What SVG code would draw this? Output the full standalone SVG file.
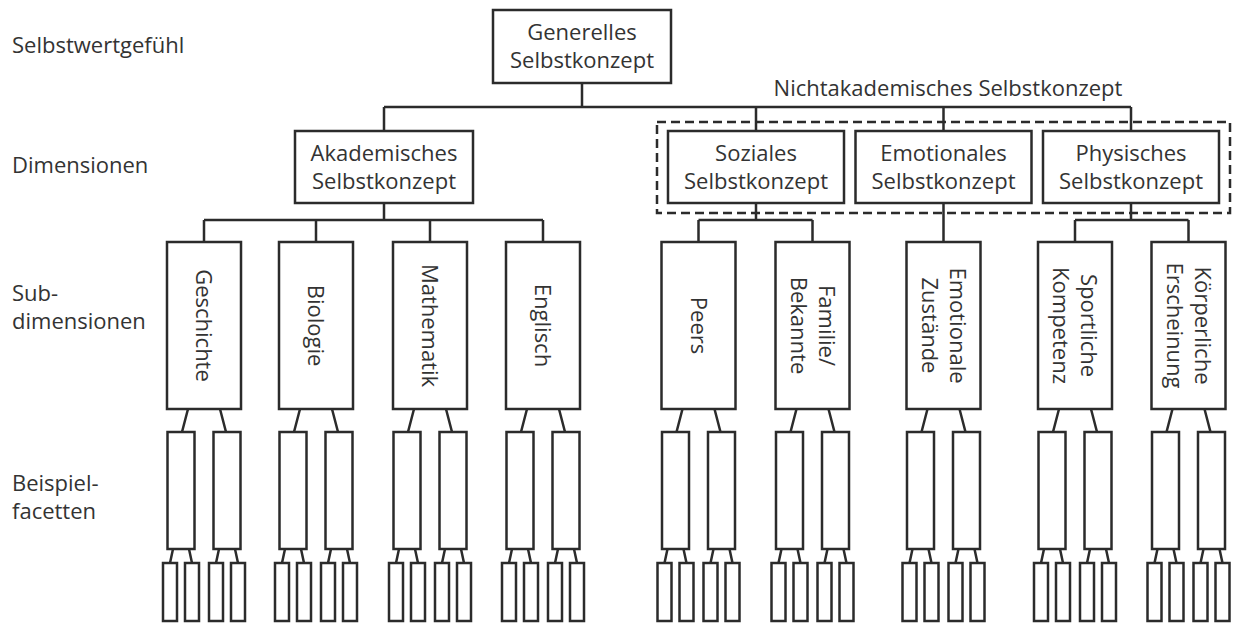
<svg xmlns="http://www.w3.org/2000/svg" width="1235" height="624" viewBox="0 0 1235 624">
<style>
.b{fill:#fff;stroke:#2b2b2b;stroke-width:2.5}
.c{fill:none;stroke:#2b2b2b;stroke-width:2.5}
.d{fill:none;stroke:#2b2b2b;stroke-width:2.5;stroke-dasharray:9 5}
text{font-family:"Open Sans","DejaVu Sans",sans-serif;font-size:22px;fill:#333}
.m{text-anchor:middle}
</style>
<rect width="1235" height="624" fill="#fff"/>
<g id="levels">
<text x="12" y="53">Selbstwertgefühl</text>
<text x="12" y="173">Dimensionen</text>
<text x="12" y="301">Sub-</text>
<text x="12" y="329">dimensionen</text>
<text x="12" y="491">Beispiel-</text>
<text x="12" y="519">facetten</text>
</g>
<g id="group-nonacademic">
<rect class="d" x="657" y="122" width="573" height="91"/>
<text class="m" x="948" y="96">Nichtakademisches Selbstkonzept</text>
</g>
<g id="connectors">
<path class="c" d="M582,83V107M384,107H1131M384,107V131M756,107V131M943.5,107V131M1131,107V131"/>
<path class="c" d="M384,203V220M204,220H543M204,220V242M316,220V242M430,220V242M543,220V242"/>
<path class="c" d="M756,203V220M698.5,220H812.5M698.5,220V242M812.5,220V242M943.5,203V242"/>
<path class="c" d="M1131,203V220M1075,220H1188.5M1075,220V242M1188.5,220V242"/>
<path class="c" d="M188,409L182,432M220,409L226,432M173,549L170,563M189,549L192,563M219,549L216,563M235,549L238,563"/>
<path class="c" d="M300,409L294,432M332,409L338,432M285,549L282,563M301,549L304,563M331,549L328,563M347,549L350,563"/>
<path class="c" d="M414,409L408,432M446,409L452,432M399,549L396,563M415,549L418,563M445,549L442,563M461,549L464,563"/>
<path class="c" d="M527,409L521,432M559,409L565,432M512,549L509,563M528,549L531,563M558,549L555,563M574,549L577,563"/>
<path class="c" d="M682.5,409L676.5,432M714.5,409L720.5,432M667.5,549L664.5,563M683.5,549L686.5,563M713.5,549L710.5,563M729.5,549L732.5,563"/>
<path class="c" d="M796.5,409L790.5,432M828.5,409L834.5,432M781.5,549L778.5,563M797.5,549L800.5,563M827.5,549L824.5,563M843.5,549L846.5,563"/>
<path class="c" d="M927.5,409L921.5,432M959.5,409L965.5,432M912.5,549L909.5,563M928.5,549L931.5,563M958.5,549L955.5,563M974.5,549L977.5,563"/>
<path class="c" d="M1059,409L1053,432M1091,409L1097,432M1044,549L1041,563M1060,549L1063,563M1090,549L1087,563M1106,549L1109,563"/>
<path class="c" d="M1172.5,409L1166.5,432M1204.5,409L1210.5,432M1157.5,549L1154.5,563M1173.5,549L1176.5,563M1203.5,549L1200.5,563M1219.5,549L1222.5,563"/>
</g>
<g id="generelles">
<rect class="b" x="493" y="10" width="178" height="73"/>
<text class="m" x="582" y="40">Generelles</text>
<text class="m" x="582" y="68">Selbstkonzept</text>
</g>
<g id="akademisches">
<rect class="b" x="295" y="131" width="178" height="72"/>
<text class="m" x="384" y="161">Akademisches</text>
<text class="m" x="384" y="189">Selbstkonzept</text>
</g>
<g id="soziales">
<rect class="b" x="668" y="131" width="176" height="72"/>
<text class="m" x="756" y="161">Soziales</text>
<text class="m" x="756" y="189">Selbstkonzept</text>
</g>
<g id="emotionales">
<rect class="b" x="855.5" y="131" width="176" height="72"/>
<text class="m" x="943.5" y="161">Emotionales</text>
<text class="m" x="943.5" y="189">Selbstkonzept</text>
</g>
<g id="physisches">
<rect class="b" x="1043" y="131" width="176" height="72"/>
<text class="m" x="1131" y="161">Physisches</text>
<text class="m" x="1131" y="189">Selbstkonzept</text>
</g>
<g id="geschichte">
<rect class="b" x="167" y="242" width="74" height="167"/>
<text class="m" transform="translate(204,325.5) rotate(90)" y="8">Geschichte</text>
</g>
<g id="biologie">
<rect class="b" x="279" y="242" width="74" height="167"/>
<text class="m" transform="translate(316,325.5) rotate(90)" y="8">Biologie</text>
</g>
<g id="mathematik">
<rect class="b" x="393" y="242" width="74" height="167"/>
<text class="m" transform="translate(430,325.5) rotate(90)" y="8">Mathematik</text>
</g>
<g id="englisch">
<rect class="b" x="506" y="242" width="74" height="167"/>
<text class="m" transform="translate(543,325.5) rotate(90)" y="8">Englisch</text>
</g>
<g id="peers">
<rect class="b" x="661.5" y="242" width="74" height="167"/>
<text class="m" transform="translate(698.5,325.5) rotate(90)" y="8">Peers</text>
</g>
<g id="familie">
<rect class="b" x="775.5" y="242" width="74" height="167"/>
<text class="m" transform="translate(812.5,325.5) rotate(90)"><tspan x="0" y="-6">Familie/</tspan><tspan x="0" y="22">Bekannte</tspan></text>
</g>
<g id="emotionale-zustaende">
<rect class="b" x="906.5" y="242" width="74" height="167"/>
<text class="m" transform="translate(943.5,325.5) rotate(90)"><tspan x="0" y="-6">Emotionale</tspan><tspan x="0" y="22">Zustände</tspan></text>
</g>
<g id="sportliche">
<rect class="b" x="1038" y="242" width="74" height="167"/>
<text class="m" transform="translate(1075,325.5) rotate(90)"><tspan x="0" y="-6">Sportliche</tspan><tspan x="0" y="22">Kompetenz</tspan></text>
</g>
<g id="koerperliche">
<rect class="b" x="1151.5" y="242" width="74" height="167"/>
<text class="m" transform="translate(1188.5,325.5) rotate(90)"><tspan x="0" y="-6">Körperliche</tspan><tspan x="0" y="22">Erscheinung</tspan></text>
</g>
<g id="facets">
<g id="f-geschichte-1"><rect class="b" x="167.5" y="432" width="27" height="117"/></g>
<g id="f-geschichte-2"><rect class="b" x="213.5" y="432" width="27" height="117"/></g>
<g id="f-biologie-1"><rect class="b" x="279.5" y="432" width="27" height="117"/></g>
<g id="f-biologie-2"><rect class="b" x="325.5" y="432" width="27" height="117"/></g>
<g id="f-mathematik-1"><rect class="b" x="393.5" y="432" width="27" height="117"/></g>
<g id="f-mathematik-2"><rect class="b" x="439.5" y="432" width="27" height="117"/></g>
<g id="f-englisch-1"><rect class="b" x="506.5" y="432" width="27" height="117"/></g>
<g id="f-englisch-2"><rect class="b" x="552.5" y="432" width="27" height="117"/></g>
<g id="f-peers-1"><rect class="b" x="662" y="432" width="27" height="117"/></g>
<g id="f-peers-2"><rect class="b" x="708" y="432" width="27" height="117"/></g>
<g id="f-familie-1"><rect class="b" x="776" y="432" width="27" height="117"/></g>
<g id="f-familie-2"><rect class="b" x="822" y="432" width="27" height="117"/></g>
<g id="f-emotionale-1"><rect class="b" x="907" y="432" width="27" height="117"/></g>
<g id="f-emotionale-2"><rect class="b" x="953" y="432" width="27" height="117"/></g>
<g id="f-sportliche-1"><rect class="b" x="1038.5" y="432" width="27" height="117"/></g>
<g id="f-sportliche-2"><rect class="b" x="1084.5" y="432" width="27" height="117"/></g>
<g id="f-koerperliche-1"><rect class="b" x="1152" y="432" width="27" height="117"/></g>
<g id="f-koerperliche-2"><rect class="b" x="1198" y="432" width="27" height="117"/></g>
</g>
<g id="leaves">
<g id="l-geschichte"><rect class="b" x="163" y="563" width="14" height="58"/><rect class="b" x="185" y="563" width="14" height="58"/><rect class="b" x="209" y="563" width="14" height="58"/><rect class="b" x="231" y="563" width="14" height="58"/></g>
<g id="l-biologie"><rect class="b" x="275" y="563" width="14" height="58"/><rect class="b" x="297" y="563" width="14" height="58"/><rect class="b" x="321" y="563" width="14" height="58"/><rect class="b" x="343" y="563" width="14" height="58"/></g>
<g id="l-mathematik"><rect class="b" x="389" y="563" width="14" height="58"/><rect class="b" x="411" y="563" width="14" height="58"/><rect class="b" x="435" y="563" width="14" height="58"/><rect class="b" x="457" y="563" width="14" height="58"/></g>
<g id="l-englisch"><rect class="b" x="502" y="563" width="14" height="58"/><rect class="b" x="524" y="563" width="14" height="58"/><rect class="b" x="548" y="563" width="14" height="58"/><rect class="b" x="570" y="563" width="14" height="58"/></g>
<g id="l-peers"><rect class="b" x="657.5" y="563" width="14" height="58"/><rect class="b" x="679.5" y="563" width="14" height="58"/><rect class="b" x="703.5" y="563" width="14" height="58"/><rect class="b" x="725.5" y="563" width="14" height="58"/></g>
<g id="l-familie"><rect class="b" x="771.5" y="563" width="14" height="58"/><rect class="b" x="793.5" y="563" width="14" height="58"/><rect class="b" x="817.5" y="563" width="14" height="58"/><rect class="b" x="839.5" y="563" width="14" height="58"/></g>
<g id="l-emotionale"><rect class="b" x="902.5" y="563" width="14" height="58"/><rect class="b" x="924.5" y="563" width="14" height="58"/><rect class="b" x="948.5" y="563" width="14" height="58"/><rect class="b" x="970.5" y="563" width="14" height="58"/></g>
<g id="l-sportliche"><rect class="b" x="1034" y="563" width="14" height="58"/><rect class="b" x="1056" y="563" width="14" height="58"/><rect class="b" x="1080" y="563" width="14" height="58"/><rect class="b" x="1102" y="563" width="14" height="58"/></g>
<g id="l-koerperliche"><rect class="b" x="1147.5" y="563" width="14" height="58"/><rect class="b" x="1169.5" y="563" width="14" height="58"/><rect class="b" x="1193.5" y="563" width="14" height="58"/><rect class="b" x="1215.5" y="563" width="14" height="58"/></g>
</g>
</svg>
